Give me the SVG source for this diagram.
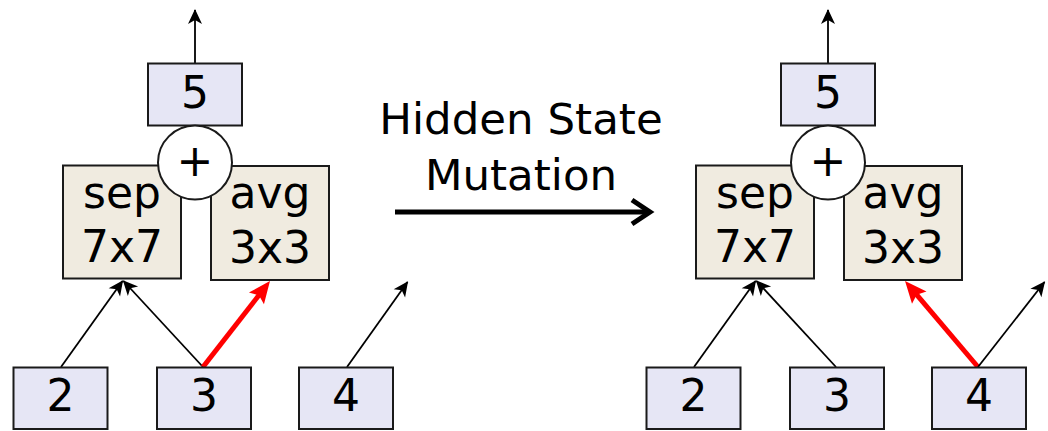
<svg xmlns="http://www.w3.org/2000/svg" width="1048" height="431" viewBox="0 0 1048 431">
  <style>
    .state { fill: #e6e6f5; stroke: #1a1a1a; stroke-width: 2; }
    .op { fill: #f0ebe0; stroke: #1a1a1a; stroke-width: 2; }
    .add { fill: #ffffff; stroke: #1a1a1a; stroke-width: 2; }
    .lbl { font-family: "DejaVu Sans", "Liberation Sans", sans-serif; font-size: 44px; fill: #000; text-anchor: middle; }
    .title { font-family: "DejaVu Sans", "Liberation Sans", sans-serif; font-size: 43.5px; fill: #000; text-anchor: middle; }
    .edge { fill: none; stroke: #000; stroke-width: 1.8; marker-end: url(#barb); }
    .mut { fill: none; stroke: #ff0000; stroke-width: 5; marker-end: url(#redhead); }
  </style>
  <defs>
    <marker id="barb" markerUnits="userSpaceOnUse" viewBox="-18 -9 20 18" refX="0" refY="0" markerWidth="20" markerHeight="18" orient="auto" overflow="visible">
      <path d="M1,0 L-14,-7 L-10,0 L-14,7 Z" fill="#000"/>
    </marker>
    <marker id="redhead" markerUnits="userSpaceOnUse" viewBox="-12 -11 30 22" refX="0" refY="0" markerWidth="30" markerHeight="22" orient="auto" overflow="visible">
      <path d="M12,0 L-10,-9.5 L-6,0 L-10,9.5 Z" fill="#ff0000"/>
    </marker>
  </defs>

  <!-- connectors -->
  <g id="connectors">
    <!-- left cell -->
    <line class="edge" x1="195" y1="63" x2="195" y2="10"/>
    <line class="edge" x1="61" y1="367" x2="122.5" y2="281"/>
    <line class="edge" x1="203" y1="367" x2="123.5" y2="281"/>
    <line class="mut" x1="203" y1="367" x2="262.6" y2="290.5"/>
    <line class="edge" x1="347" y1="367" x2="407.5" y2="282"/>
    <!-- right cell -->
    <line class="edge" x1="828" y1="63" x2="828" y2="10"/>
    <line class="edge" x1="694" y1="367" x2="755.5" y2="281"/>
    <line class="edge" x1="836" y1="367" x2="756.5" y2="281"/>
    <line class="mut" x1="978" y1="367" x2="912.8" y2="290.1"/>
    <line class="edge" x1="978" y1="367" x2="1044.5" y2="282"/>
    <!-- transition arrow -->
    <line x1="395" y1="212" x2="647" y2="212" stroke="#000" stroke-width="5"/>
    <polyline points="632,200 650,212 632,224" fill="none" stroke="#000" stroke-width="5" stroke-linejoin="miter"/>
  </g>

  <!-- left cell nodes -->
  <g id="L-out5">
    <rect class="state" x="148" y="63.5" width="94" height="62"/>
    <text class="lbl" x="195" y="108">5</text>
  </g>
  <g id="L-sep">
    <rect class="op" x="63" y="165.5" width="118" height="113"/>
    <text class="lbl" x="122" y="208">sep</text>
    <text class="lbl" x="122" y="262">7x7</text>
  </g>
  <g id="L-avg">
    <rect class="op" x="211" y="166" width="118" height="114"/>
    <text class="lbl" x="270" y="208">avg</text>
    <text class="lbl" x="270" y="263">3x3</text>
  </g>
  <g id="L-add">
    <circle class="add" cx="195" cy="162.5" r="37"/>
    <text class="lbl" x="195" y="176">+</text>
  </g>
  <g id="L-in2">
    <rect class="state" x="13.5" y="367.5" width="94" height="61.5"/>
    <text class="lbl" x="60.5" y="411">2</text>
  </g>
  <g id="L-in3">
    <rect class="state" x="157" y="367.5" width="94" height="61.5"/>
    <text class="lbl" x="204" y="411">3</text>
  </g>
  <g id="L-in4">
    <rect class="state" x="299" y="367.5" width="94" height="61.5"/>
    <text class="lbl" x="346" y="411">4</text>
  </g>

  <!-- transition label -->
  <g id="label">
    <text class="title" x="521" y="134">Hidden State</text>
    <text class="title" x="521" y="190">Mutation</text>
  </g>

  <!-- right cell nodes -->
  <g id="R-out5">
    <rect class="state" x="781" y="63.5" width="94" height="62"/>
    <text class="lbl" x="828" y="108">5</text>
  </g>
  <g id="R-sep">
    <rect class="op" x="696" y="165.5" width="118" height="113"/>
    <text class="lbl" x="755" y="208">sep</text>
    <text class="lbl" x="755" y="262">7x7</text>
  </g>
  <g id="R-avg">
    <rect class="op" x="844" y="166" width="118" height="114"/>
    <text class="lbl" x="903" y="208">avg</text>
    <text class="lbl" x="903" y="263">3x3</text>
  </g>
  <g id="R-add">
    <circle class="add" cx="828" cy="162.5" r="37"/>
    <text class="lbl" x="828" y="176">+</text>
  </g>
  <g id="R-in2">
    <rect class="state" x="646.5" y="367.5" width="94" height="61.5"/>
    <text class="lbl" x="693.5" y="411">2</text>
  </g>
  <g id="R-in3">
    <rect class="state" x="790" y="367.5" width="94" height="61.5"/>
    <text class="lbl" x="837" y="411">3</text>
  </g>
  <g id="R-in4">
    <rect class="state" x="932" y="367.5" width="94" height="61.5"/>
    <text class="lbl" x="979" y="411">4</text>
  </g>
</svg>
